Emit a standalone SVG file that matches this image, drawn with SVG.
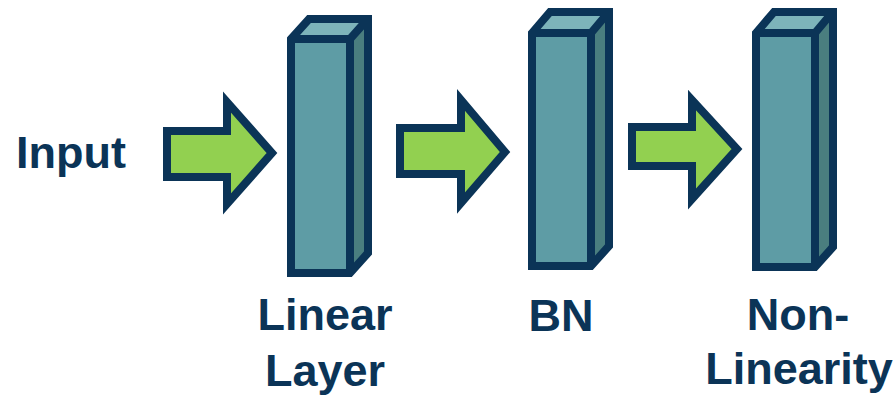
<svg xmlns="http://www.w3.org/2000/svg" width="896" height="396" viewBox="0 0 896 396">
  <style>
    .front { fill: #5e9ca5; }
    .top { fill: #7db4ba; }
    .side { fill: #4a7e7f; }
    .outline { fill: none; stroke: #0b3457; stroke-width: 8; stroke-linejoin: miter; stroke-linecap: butt; }
    .arrow { fill: #92d050; stroke: #0b3457; stroke-width: 8; stroke-linejoin: miter; stroke-miterlimit: 10; }
    .label { font-family: "Liberation Sans", Arial, sans-serif; font-weight: bold; font-size: 45px; fill: #0b3457; }
  </style>
  <rect width="896" height="396" fill="#ffffff"/>

  <!-- flow arrows between stages -->
  <g id="connectors">
    <polygon class="arrow" points="167,131 227,131 227,102 272,153 227,204 227,177 167,177"/>
    <polygon class="arrow" points="400,128 461,128 461,100 505,152 461,203 461,174 400,174"/>
    <polygon class="arrow" points="632,127 692,127 692,100 737,149 692,199 692,166 632,166"/>
  </g>

  <g id="input">
    <text class="label" x="16" y="168">Input</text>
  </g>

  <!-- stage blocks: faces filled first, then silhouette and inner edges -->
  <g id="linear-layer">
    <polygon class="side" points="350,39 368,19 368,253 350,273"/>
    <polygon class="top" points="291,39 309,19 368,19 350,39"/>
    <rect class="front" x="291" y="39" width="59" height="234"/>
    <path class="outline" d="M291,39 L309,19 L368,19 L368,253 L350,273 L291,273 Z M291,39 L350,39 L366,21 M350,39 L350,273"/>
    <text class="label" x="325" y="330" text-anchor="middle">Linear</text>
    <text class="label" x="325" y="386" text-anchor="middle">Layer</text>
  </g>

  <g id="bn">
    <polygon class="side" points="591,33 609,12 609,246 591,266"/>
    <polygon class="top" points="532,33 550,12 609,12 591,33"/>
    <rect class="front" x="532" y="33" width="59" height="233"/>
    <path class="outline" d="M532,33 L550,12 L609,12 L609,246 L591,266 L532,266 Z M532,33 L591,33 L607,14 M591,33 L591,266"/>
    <text class="label" x="561" y="331" text-anchor="middle">BN</text>
  </g>

  <g id="non-linearity">
    <polygon class="side" points="815,33 833,12 833,247 815,267"/>
    <polygon class="top" points="756,33 774,12 833,12 815,33"/>
    <rect class="front" x="756" y="33" width="59" height="234"/>
    <path class="outline" d="M756,33 L774,12 L833,12 L833,247 L815,267 L756,267 Z M756,33 L815,33 L831,14 M815,33 L815,267"/>
    <text class="label" x="798" y="330" text-anchor="middle">Non-</text>
    <text class="label" x="799" y="384" text-anchor="middle">Linearity</text>
  </g>
</svg>
